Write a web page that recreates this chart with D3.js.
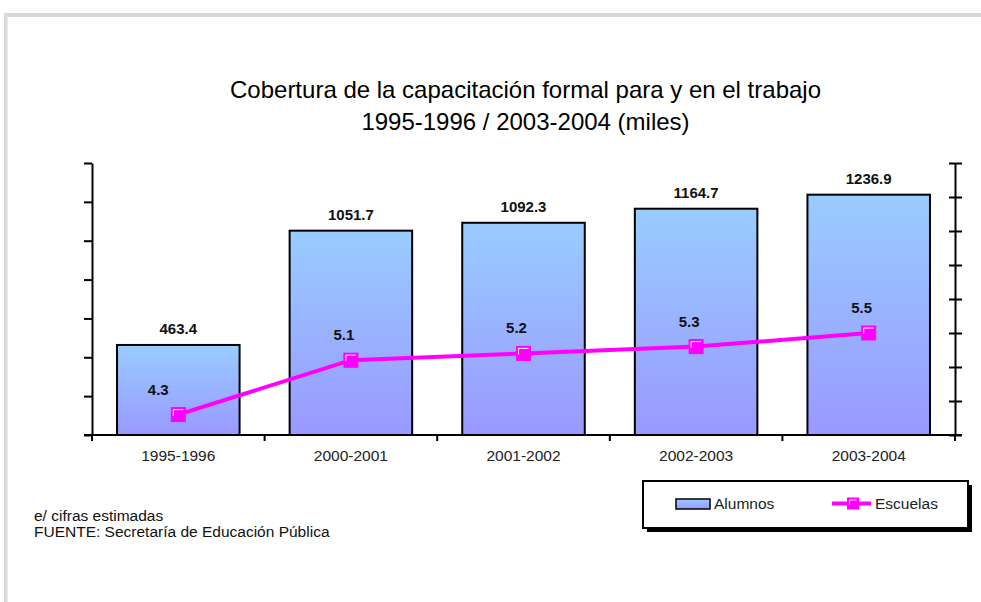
<!DOCTYPE html>
<html>
<head>
<meta charset="utf-8">
<script src="https://cdn.jsdelivr.net/npm/d3@7"></script>
<style>
  html, body { margin: 0; padding: 0; background: #fff; }
  svg { display: block; font-family: "Liberation Sans", Arial, Helvetica, sans-serif; }
</style>
</head>
<body>
<svg id="chart" width="981" height="602"></svg>
<script>
// ---- data ----
const categories = ["1995-1996", "2000-2001", "2001-2002", "2002-2003", "2003-2004"];
const alumnos = [463.4, 1051.7, 1092.3, 1164.7, 1236.9];
const escuelas = [4.3, 5.1, 5.2, 5.3, 5.5];
const titleLines = ["Cobertura de la capacitación formal para y en el trabajo", "1995-1996 / 2003-2004 (miles)"];
const footnotes = ["e/ cifras estimadas", "FUENTE: Secretaría de Educación Pública"];
const seriesNames = ["Alumnos", "Escuelas"];
const leftDomain = [0, 1400];
const leftTicks = [0, 200, 400, 600, 800, 1000, 1200, 1400];
const rightDomain = [4, 8];
const rightTicks = [4, 4.5, 5, 5.5, 6, 6.5, 7, 7.5, 8];

// ---- layout ----
const svg = d3.select("#chart");
const pLeft = 92, pRight = 955, pTop = 163, pBottom = 435;
const magenta = "#FF00FF";

// frame
svg.append("rect").attr("x", 4).attr("y", 13).attr("width", 981).attr("height", 4).attr("fill", "#D9D9D9");
svg.append("rect").attr("x", 4).attr("y", 13).attr("width", 3.5).attr("height", 602).attr("fill", "#D9D9D9");

const defs = svg.append("defs");
const grad = defs.append("linearGradient").attr("id", "barGrad").attr("x1", 0).attr("y1", 0).attr("x2", 0).attr("y2", 1);
grad.append("stop").attr("offset", "0%").attr("stop-color", "#99CCFF");
grad.append("stop").attr("offset", "100%").attr("stop-color", "#9999FF");

// title
svg.append("g").selectAll("text").data(titleLines).join("text")
  .attr("x", 525.5).attr("y", (d, i) => 98 + i * 32)
  .attr("text-anchor", "middle").attr("font-size", 24).attr("fill", "#000")
  .text(d => d);

// scales
const x = d3.scaleBand().domain(categories).range([pLeft, pRight]).paddingInner(0.29).paddingOuter(0.145);
const yL = d3.scaleLinear().domain(leftDomain).range([pBottom, pTop]);
const yR = d3.scaleLinear().domain(rightDomain).range([pBottom, pTop]);

// bars
svg.append("g").selectAll("rect").data(alumnos).join("rect")
  .attr("x", (d, i) => x(categories[i]))
  .attr("y", d => yL(d))
  .attr("width", x.bandwidth())
  .attr("height", d => yL(0) - yL(d))
  .attr("fill", "url(#barGrad)")
  .attr("stroke", "#000").attr("stroke-width", 2);

// bar labels
svg.append("g").selectAll("text").data(alumnos).join("text")
  .attr("x", (d, i) => x(categories[i]) + x.bandwidth() / 2)
  .attr("y", d => yL(d) - 10.5)
  .attr("text-anchor", "middle").attr("font-size", 15).attr("font-weight", "bold").attr("fill", "#111")
  .text(d => d.toFixed(1));

// left axis
const axL = svg.append("g").attr("transform", `translate(${pLeft},0)`)
  .call(d3.axisLeft(yL).tickValues(leftTicks).tickFormat("").tickSize(8).tickSizeOuter(0));
axL.select(".domain").attr("stroke-width", 2).attr("stroke", "#000");
axL.selectAll(".tick line").attr("stroke-width", 2).attr("stroke", "#000");

// right axis (ticks crossing)
const axR = svg.append("g").attr("transform", `translate(${pRight},0)`)
  .call(d3.axisRight(yR).tickValues(rightTicks).tickFormat("").tickSize(7).tickSizeOuter(0));
axR.select(".domain").attr("stroke-width", 2).attr("stroke", "#000");
axR.selectAll(".tick line").attr("x1", -6).attr("stroke-width", 2).attr("stroke", "#000");
svg.append("line").attr("x1", pRight).attr("x2", pRight).attr("y1", pBottom).attr("y2", pBottom + 6)
  .attr("stroke", "#000").attr("stroke-width", 2);

// bottom axis
const axB = svg.append("g").attr("transform", `translate(0,${pBottom})`)
  .call(d3.axisBottom(x).tickSize(0).tickSizeOuter(0).tickPadding(18));
axB.select(".domain").remove();
axB.selectAll(".tick text").attr("font-size", 15.5).attr("fill", "#222")
  .attr("font-family", "'Liberation Sans', Arial, sans-serif").attr("dy", "0.5em");
svg.append("line").attr("x1", pLeft - 8).attr("x2", pRight + 7).attr("y1", pBottom).attr("y2", pBottom)
  .attr("stroke", "#000").attr("stroke-width", 2);
const boundaries = d3.range(categories.length + 1).map(i => x.range()[0] + i * x.step());
svg.append("g").selectAll("line").data(boundaries).join("line")
  .attr("x1", d => d).attr("x2", d => d).attr("y1", pBottom).attr("y2", pBottom + 6)
  .attr("stroke", "#000").attr("stroke-width", 2);

// line
const cx = i => x(categories[i]) + x.bandwidth() / 2;
const line = d3.line().x((d, i) => cx(i)).y(d => yR(d));
svg.append("path").datum(escuelas).attr("d", line)
  .attr("fill", "none").attr("stroke", magenta).attr("stroke-width", 4);

function marker(g, px, py, s) {
  g.append("rect").attr("x", px - s / 2).attr("y", py - s / 2).attr("width", s).attr("height", s)
    .attr("fill", magenta).attr("stroke", magenta).attr("stroke-width", 1);
  const h = s / 2 - 2;
  g.append("polyline")
    .attr("points", `${px - h},${py + 1} ${px - h},${py - h} ${px + h},${py - h}`)
    .attr("fill", "none").attr("stroke", "#fff").attr("stroke-width", 1);
}
const mg = svg.append("g");
escuelas.forEach((d, i) => marker(mg, cx(i), yR(d), 14));

// line labels
svg.append("g").selectAll("text").data(escuelas).join("text")
  .attr("x", (d, i) => cx(i) - (i === 0 ? 20 : 7))
  .attr("y", d => yR(d) - 20)
  .attr("text-anchor", "middle").attr("font-size", 15).attr("font-weight", "bold").attr("fill", "#111")
  .text(d => d.toFixed(1));

// legend
const lg = svg.append("g");
lg.append("rect").attr("x", 647).attr("y", 485).attr("width", 325).attr("height", 47).attr("fill", "#000");
lg.append("rect").attr("x", 643).attr("y", 481).attr("width", 325).attr("height", 47)
  .attr("fill", "#fff").attr("stroke", "#000").attr("stroke-width", 2);
lg.append("rect").attr("x", 676).attr("y", 499).attr("width", 34).attr("height", 10)
  .attr("fill", "url(#barGrad)").attr("stroke", "#000").attr("stroke-width", 1.5);
lg.append("text").attr("x", 714).attr("y", 509).attr("font-size", 15.5).attr("fill", "#222").text(seriesNames[0]);
lg.append("line").attr("x1", 832).attr("x2", 871).attr("y1", 503.5).attr("y2", 503.5)
  .attr("stroke", magenta).attr("stroke-width", 4);
marker(lg, 853, 503.5, 11);
lg.append("text").attr("x", 875).attr("y", 509).attr("font-size", 15.5).attr("fill", "#222").text(seriesNames[1]);

// footnotes
svg.append("g").selectAll("text").data(footnotes).join("text")
  .attr("x", 34).attr("y", (d, i) => 520.5 + i * 16.5)
  .attr("font-size", 15.5).attr("fill", "#111")
  .text(d => d);
</script>
</body>
</html>
